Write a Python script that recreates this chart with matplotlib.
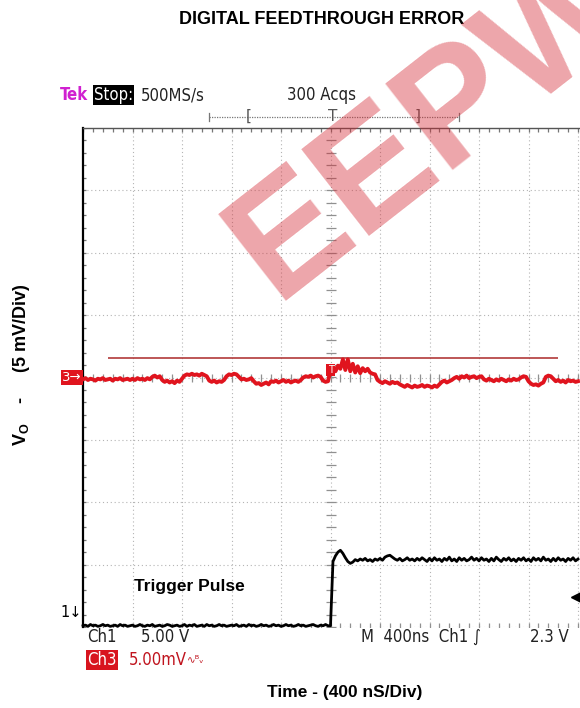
import numpy as np
import matplotlib.pyplot as plt

plt.rcParams['font.family'] = ['Liberation Sans', 'DejaVu Sans']
plt.rcParams['mathtext.fontset'] = 'custom'
plt.rcParams['mathtext.bf'] = 'Liberation Sans:bold'
plt.rcParams['mathtext.rm'] = 'Liberation Sans'

# Sample times (ns), trigger at 0, 400 ns/div, 10 div on screen
time_ns = np.arange(-2000, 2001, 20)
NS_PER_DIV = 400

# Ch3: output Vo, screen divisions (5 mV/div), ref marker at 0
ch3_div = [
    -0.03, -0.01, -0.04, -0.02, -0.03, -0.05, -0.02, -0.03, -0.01, -0.04,
    -0.03, -0.02, -0.05, -0.02, -0.03, -0.01, -0.04, -0.03, -0.02, -0.04,
    -0.02, -0.04, -0.01, -0.03, -0.02, -0.04, -0.01, -0.03, 0.01, 0.03,
    0.00, 0.02, -0.04, -0.07, -0.05, -0.08, -0.06, -0.09, -0.05, -0.07,
    -0.02, 0.03, 0.05, 0.04, 0.06, 0.04, 0.05, 0.03, 0.06, 0.04,
    0.02, -0.05, -0.07, -0.05, -0.08, -0.06, -0.07, -0.04, 0.02, 0.05,
    0.04, 0.06, 0.05, 0.01, -0.03, -0.02, -0.04, -0.03, -0.01, -0.06,
    -0.10, -0.09, -0.12, -0.10, -0.08, -0.11, -0.06, -0.07, -0.05, -0.08,
    -0.06, -0.04, -0.07, -0.05, -0.08, -0.06, -0.05, -0.07, -0.04, 0.00,
    0.02, 0.01, 0.03, 0.00, 0.02, 0.03, 0.01, -0.05, -0.07, -0.06,
    0.12, 0.18, 0.10, 0.19, 0.14, 0.29, 0.12, 0.29, 0.10, 0.22,
    0.08, 0.18, 0.07, 0.15, 0.10, 0.14, 0.08, 0.06, 0.05, -0.04,
    -0.07, -0.09, -0.06, -0.08, -0.10, -0.07, -0.09, -0.08, -0.11, -0.13,
    -0.15, -0.12, -0.14, -0.16, -0.13, -0.15, -0.14, -0.12, -0.15, -0.13,
    -0.14, -0.16, -0.13, -0.15, -0.11, -0.07, -0.05, -0.08, -0.06, -0.04,
    -0.01, 0.01, -0.02, 0.02, 0.00, 0.03, -0.01, 0.01, 0.02, -0.01,
    0.01, 0.02, -0.03, -0.05, -0.02, -0.04, -0.06, -0.03, -0.05, -0.02,
    -0.04, -0.06, -0.03, -0.05, -0.02, -0.04, -0.03, 0.00, 0.02, 0.01,
    -0.06, -0.10, -0.12, -0.11, -0.13, -0.10, -0.08, 0.01, 0.03, 0.02,
    -0.02, -0.06, -0.04, -0.07, -0.05, -0.08, -0.04, -0.06, -0.05, -0.07,
    -0.06,
]

# Ch1: trigger pulse, screen divisions (5 V/div)
ch1_div = [
    -3.98, -3.97, -3.99, -3.96, -3.98, -3.97, -3.99, -3.98, -3.96, -3.98,
    -3.97, -3.99, -3.98, -3.97, -3.99, -3.96, -3.98, -3.97, -3.99, -3.98,
    -3.97, -3.99, -3.98, -3.96, -3.98, -3.99, -3.97, -3.98, -3.96, -3.99,
    -3.98, -3.97, -3.99, -3.98, -3.96, -3.97, -3.99, -3.98, -3.97, -3.99,
    -3.98, -3.96, -3.99, -3.97, -3.98, -3.96, -3.99, -3.98, -3.97, -3.99,
    -3.96, -3.98, -3.97, -3.99, -3.98, -3.96, -3.98, -3.97, -3.99, -3.98,
    -3.97, -3.98, -3.96, -3.99, -3.98, -3.97, -3.99, -3.96, -3.98, -3.97,
    -3.99, -3.98, -3.96, -3.98, -3.97, -3.99, -3.98, -3.96, -3.98, -3.97,
    -3.99, -3.98, -3.96, -3.98, -3.97, -3.99, -3.98, -3.96, -3.98, -3.97,
    -3.99, -3.98, -3.97, -3.96, -3.98, -3.99, -3.97, -3.98, -3.96, -3.98,
    -3.98, -2.95, -2.86, -2.80, -2.77, -2.82, -2.89, -2.95, -2.98, -2.96,
    -2.92, -2.94, -2.91, -2.93, -2.90, -2.94, -2.92, -2.95, -2.91, -2.93,
    -2.90, -2.93, -2.88, -2.86, -2.85, -2.88, -2.91, -2.93, -2.90, -2.94,
    -2.92, -2.89, -2.93, -2.91, -2.94, -2.90, -2.93, -2.89, -2.92, -2.95,
    -2.90, -2.94, -2.89, -2.93, -2.91, -2.95, -2.90, -2.93, -2.88, -2.94,
    -2.91, -2.95, -2.89, -2.93, -2.90, -2.94, -2.92, -2.88, -2.93, -2.90,
    -2.94, -2.89, -2.93, -2.91, -2.95, -2.90, -2.94, -2.88, -2.92, -2.95,
    -2.90, -2.93, -2.89, -2.94, -2.91, -2.95, -2.90, -2.93, -2.89, -2.94,
    -2.91, -2.95, -2.89, -2.93, -2.90, -2.94, -2.88, -2.93, -2.91, -2.95,
    -2.90, -2.94, -2.89, -2.93, -2.91, -2.95, -2.90, -2.93, -2.89, -2.94,
    -2.91,
]

# Ch3 cursor/reference line level and extent (divisions)
ref_level = 0.32
ref_start, ref_end = 0.5, 9.6

W, H = 580, 708


def fx(x):
    return x / W


def fy(y):
    return 1 - y / H


fig = plt.figure(figsize=(W / 100, H / 100), dpi=100)
ax = fig.add_axes([fx(83), fy(627), fx(580 - 83), 499 / H])
ax.set_xlim(0, 497 / 49.5)
ax.set_ylim(-4, 4)
ax.set_xticks([])
ax.set_yticks([])
for s in ['right', 'bottom']:
    ax.spines[s].set_visible(False)
ax.spines['left'].set_color('black')
ax.spines['left'].set_linewidth(1.6)
ax.spines['top'].set_color('#555555')
ax.spines['top'].set_linewidth(1.0)

# graticule
dot = (0, (1, 2.5))
gcol = '#b4b4b4'
for i in range(1, 11):
    ax.axvline(i, color=gcol, lw=0.8, ls=dot, zorder=1)
for j in range(-4, 4):
    ax.axhline(j, color=gcol, lw=0.8, ls=dot, zorder=1)
minor = np.arange(0, 10.01, 0.2)
vminor = np.arange(-4, 4.01, 0.2)
ax.plot([5] * len(vminor), vminor, ls='none', marker='_', ms=7, mew=0.9,
        color='#909090', zorder=1)
ax.plot(minor, [0] * len(minor), ls='none', marker='|', ms=6, mew=0.9,
        color='#909090', zorder=1)
ax.plot(minor, [4] * len(minor), ls='none', marker='|', ms=6, mew=0.9,
        color='#777777', zorder=1)
ax.plot(minor, [-4] * len(minor), ls='none', marker='|', ms=6, mew=0.9,
        color='#909090', zorder=1)
ax.plot([0] * len(vminor), vminor, ls='none', marker='_', ms=5, mew=0.9,
        color='#777777', zorder=1)

# traces
t_div = (time_ns + 2000) / NS_PER_DIV
ax.hlines(ref_level, ref_start, ref_end, color='#b23a3a', lw=1.2, zorder=3)
ax.plot(t_div, ch3_div, color='#e0141e', lw=2.8, zorder=4)
ax.plot(t_div, ch1_div, color='black', lw=2.0, zorder=4, clip_on=False)
ax.text(5.0, 0.12, 'T', color='white', fontsize=7, ha='center', va='center',
        family='DejaVu Sans', zorder=5,
        bbox=dict(boxstyle='square,pad=0.15', fc='#e0141e', ec='none'))
ax.plot([9.98], [-3.52], marker='<', ms=8, color='black', zorder=5)

# channel markers
ax.text(-0.02, 0, '3\u2192', color='white', fontsize=9.5, ha='right',
        va='center', family='DejaVu Sans', clip_on=False,
        bbox=dict(boxstyle='square,pad=0.1', fc='#e0141e', ec='none'))
ax.text(-0.02, -3.77, '1\u2193', color='black', fontsize=10.5, ha='right',
        va='center', family='DejaVu Sans', clip_on=False)
ax.text(1.03, -3.35, 'Trigger Pulse', fontsize=12.5, fontweight='bold',
        ha='left', va='center')

# scope header / footer
scope = dict(family='DejaVu Sans', fontstretch='condensed', fontsize=12)
fig.text(fx(60), fy(95), 'Tek', color='#d020d0', fontweight='bold', va='center',
         **scope)
fig.text(fx(94), fy(95), 'Stop:', color='white', va='center',
         bbox=dict(boxstyle='square,pad=0.08', fc='black', ec='none'), **scope)
fig.text(fx(141), fy(95), '500MS/s', color='#222222', va='center', **scope)
fig.text(fx(287), fy(95), '300 Acqs', color='#222222', va='center', **scope)
ax.plot([2.55, 7.6], [4.18, 4.18], color='#777777', lw=0.9, ls=(0, (1, 1)),
        clip_on=False)
ax.plot([2.55, 2.55], [4.12, 4.24], color='#777777', lw=0.9, clip_on=False)
ax.plot([7.6, 7.6], [4.12, 4.24], color='#777777', lw=0.9, clip_on=False)
for xb, ch in [(3.35, '['), (6.75, ']'), (5.05, 'T')]:
    ax.text(xb, 4.18, ch, color='#555555', fontsize=11, ha='center',
            va='center', family='DejaVu Sans', clip_on=False)

fig.text(fx(87), fy(637), 'Ch1', color='#222222', va='center', **scope)
fig.text(fx(141), fy(637), '5.00 V', color='#222222', va='center', **scope)
fig.text(fx(361), fy(637), 'M  400ns  Ch1 \u222b', color='#222222', va='center',
         **scope)
fig.text(fx(530), fy(637), '2.3 V', color='#222222', va='center', **scope)
fig.text(fx(87), fy(660), 'Ch3', color='white', va='center',
         bbox=dict(boxstyle='square,pad=0.08', fc='#d8141e', ec='none'), **scope)
fig.text(fx(129), fy(660), '5.00mV', color='#c0141e', va='center', **scope)
fig.text(fx(187), fy(660), '\u223f\u1d2e\u1d65', color='#c0141e', va='center',
         family='DejaVu Sans', fontsize=7.5)

# titles
fig.text(fx(322), fy(20), 'DIGITAL FEEDTHROUGH ERROR', ha='center',
         va='center', fontsize=13, fontweight='bold')
fig.text(fx(345), fy(692), 'Time - (400 nS/Div)', ha='center', va='center',
         fontsize=12.5, fontweight='bold')
fig.text(fx(22), fy(365), r'$\mathbf{V_O}$    -     (5 mV/Div)', ha='center',
         va='center', rotation=90, fontsize=13, fontweight='bold')

# watermark
fig.text(fx(250), fy(268), 'EEPW', color='#d42a35', alpha=0.42, fontsize=115,
         fontweight='bold', rotation=38, rotation_mode='anchor', ha='left',
         va='center', zorder=10)

fig.savefig('out.png', dpi=100)
